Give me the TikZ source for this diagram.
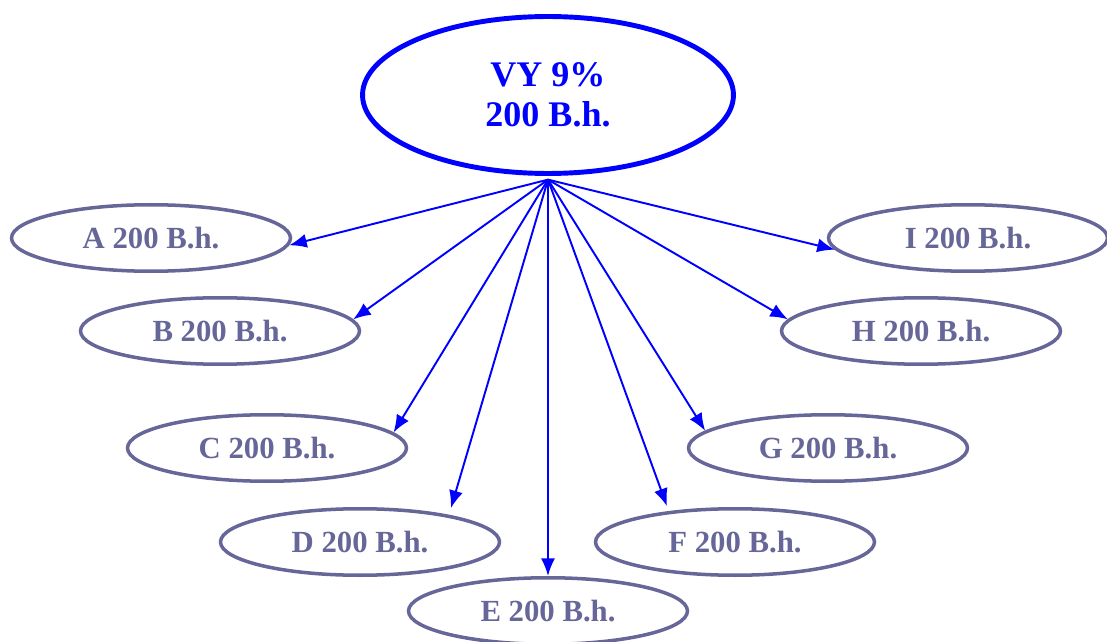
\documentclass[tikz,border=0pt]{standalone}
\usepackage{fontspec}
\setmainfont{Liberation Serif}
\usepackage{tikz}
\usetikzlibrary{shapes.geometric}
\usetikzlibrary{arrows.meta}
\definecolor{slate}{RGB}{102,102,153}

\begin{document}
\begin{tikzpicture}[
    x=0.02cm, y=-0.02cm, % one unit per pixel, y going down
    ]
% -------------------------------------------------
\tikzset{
  base/.style={ellipse, draw, inner sep=0pt, align=center},
  rootbox/.style={base, draw=blue, text=blue, line width=2.8pt, outer sep=3.5pt,
    minimum width=7.42cm, minimum height=3.14cm,
    font=\fontsize{20.5}{23}\selectfont\bfseries},
  leaf/.style={base, draw=slate, text=slate, line width=2pt,
    minimum width=5.58cm, minimum height=1.33cm,
    font=\fontsize{17.5}{20}\selectfont\bfseries},
  line/.style={draw, blue, line width=1.1pt, -{Latex[length=10pt,width=8pt]}}
}
\useasboundingbox (0,0) rectangle (1107,642);
% -------------------------------------------------
% Placing the nodes

\node [rootbox] (vy) at (548,95) {VY 9\%\\200 B.h.};

\node [leaf] (a) at (151,238) {A 200 B.h.};
\node [leaf] (b) at (220,331) {B 200 B.h.};
\node [leaf] (c) at (267,448) {C 200 B.h.};
\node [leaf] (d) at (360,542) {D 200 B.h.};
\node [leaf] (e) at (548,611) {E 200 B.h.};
\node [leaf] (f) at (735,542) {F 200 B.h.};
\node [leaf] (g) at (828,448) {G 200 B.h.};
\node [leaf] (h) at (921,331) {H 200 B.h.};
\node [leaf] (i) at (968,238) {I 200 B.h.};

\path [line] (vy.south) -- (a.-3);
\path [line] (vy.south) -- (b.5);
\path [line] (vy.south) -- (c.7);
\path [line, shorten >=4pt] (vy.south) -- (d.17);
\path [line] (vy.south) -- (e.north);
\path [line, shorten >=3pt] (vy.south) -- (f.155);
\path [line] (vy.south) -- (g.172);
\path [line] (vy.south) -- (h.175);
\path [line] (vy.south) -- (i.-175);

\end{tikzpicture}
\end{document}
